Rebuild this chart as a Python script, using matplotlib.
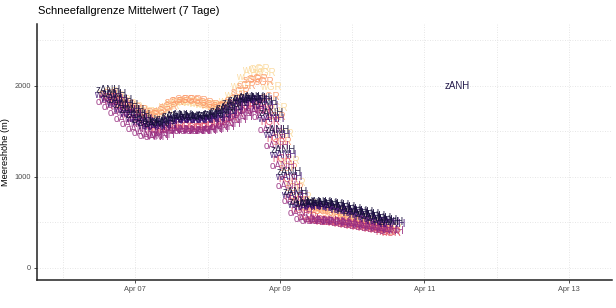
import pandas as pd
import matplotlib
matplotlib.use("Agg")
import matplotlib.pyplot as plt
import matplotlib.dates as mdates

plt.rcParams['font.family'] = ['Liberation Sans', 'DejaVu Sans']

# 2-stuendliche Werte, 6. April 15 Uhr bis 10. April 13 Uhr
times = pd.date_range("2021-04-06 15:00", periods=48, freq="2h")

names = ["wGR", "sGR", "nGR", "oANH", "wANH", "zANH"]
colors = ["#fbd99b", "#fc9a6a", "#e0506a", "#982d80", "#3f0f72", "#160f3a"]

wGR = [1930, 1890, 1840, 1800, 1770, 1740, 1710, 1690, 1690,
       1730, 1780, 1810, 1820, 1820, 1810, 1800, 1790, 1780,
       1770, 1790, 1830, 1900, 2000, 2100, 2170, 2190, 2140,
       1990, 1760, 1470, 1180, 930, 780, 700, 670, 660,
       650, 640, 620, 600, 580, 560, 540, 520, 500, 480, 460, 440]
sGR = [1910, 1870, 1820, 1790, 1760, 1730, 1700, 1680, 1680,
       1720, 1770, 1820, 1840, 1850, 1840, 1830, 1810, 1790,
       1770, 1770, 1800, 1850, 1930, 2000, 2060, 2080, 2040,
       1880, 1660, 1380, 1100, 880, 740, 660, 640, 630,
       620, 600, 580, 560, 540, 520, 500, 480, 460, 440, 420, 400]
nGR = [1870, 1830, 1780, 1730, 1680, 1640, 1600, 1560, 1520,
       1520, 1540, 1560, 1560, 1550, 1540, 1540, 1550, 1560,
       1580, 1600, 1640, 1690, 1740, 1780, 1800, 1790, 1730,
       1600, 1420, 1200, 980, 780, 640, 560, 530, 520,
       510, 500, 490, 480, 470, 460, 450, 440, 430, 420, 400, 380]
oANH = [1820, 1770, 1700, 1640, 1580, 1530, 1480, 1450, 1440,
        1460, 1500, 1520, 1520, 1510, 1500, 1500, 1510, 1520,
        1530, 1550, 1580, 1620, 1660, 1700, 1730, 1720, 1660,
        1520, 1340, 1120, 900, 730, 600, 540, 520, 520,
        520, 510, 500, 490, 480, 470, 460, 450, 440, 430, 420, 410]
wANH = [1900, 1860, 1800, 1740, 1690, 1640, 1600, 1560, 1550,
        1570, 1610, 1630, 1640, 1630, 1620, 1620, 1630, 1640,
        1650, 1680, 1720, 1770, 1810, 1840, 1850, 1840, 1780,
        1640, 1460, 1240, 1000, 800, 690, 670, 680, 690,
        680, 670, 660, 640, 620, 600, 580, 560, 540, 520, 500, 480]
zANH = [1960, 1910, 1850, 1790, 1730, 1680, 1630, 1590, 1580,
        1600, 1640, 1670, 1680, 1670, 1660, 1660, 1670, 1680,
        1690, 1720, 1760, 1810, 1850, 1870, 1880, 1870, 1820,
        1700, 1520, 1300, 1050, 830, 720, 700, 710, 720,
        710, 700, 690, 670, 650, 630, 610, 590, 570, 550, 530, 510]
series = [wGR, sGR, nGR, oANH, wANH, zANH]

# einzelner Wert rechts
extra_time = pd.Timestamp("2021-04-11 11:00")
extra_value = 2000
extra_name = "zANH"
extra_color = "#241b4c"

fig = plt.figure(figsize=(6.16, 3.08), dpi=100)
ax = fig.add_axes([0.060, 0.092, 0.934, 0.830])

tnum = mdates.date2num(times)
for name, col, vals in zip(names, colors, series):
    for t, v in zip(tnum, vals):
        ax.text(t, v, name, color=col, fontsize=7, ha='center', va='center', alpha=0.9)
ax.text(mdates.date2num(extra_time), extra_value, extra_name, color=extra_color,
        fontsize=7, ha='center', va='center')

day0 = mdates.date2num(pd.Timestamp("2021-04-05"))
ax.set_xlim(day0 + 0.64, day0 + 8.6)
ax.set_ylim(-129, 2680)

ax.xaxis.set_major_locator(mdates.DayLocator(bymonthday=[7, 9, 11, 13]))
ax.xaxis.set_minor_locator(mdates.DayLocator(bymonthday=[6, 8, 10, 12]))
ax.xaxis.set_major_formatter(mdates.DateFormatter("%b %d"))
ax.set_yticks([0, 1000, 2000])
ax.set_yticks([500, 1500, 2500], minor=True)

ax.grid(True, which='both', color='#dedede', linestyle=(0, (1, 2)), linewidth=0.6)
ax.set_axisbelow(True)
for s in ['top', 'right']:
    ax.spines[s].set_visible(False)
for s in ['left', 'bottom']:
    ax.spines[s].set_color('#222222')
    ax.spines[s].set_linewidth(1.1)
ax.tick_params(which='major', length=2.5, width=0.6, color='#333333',
               labelsize=5.3, labelcolor='#4d4d4d', pad=2)
ax.tick_params(which='minor', length=0)

ax.set_ylabel("Meereshöhe (m)", fontsize=6.7, labelpad=3)
fig.text(0.062, 0.963, "Schneefallgrenze Mittelwert (7 Tage)", fontsize=8, va='center')

fig.savefig("out.png", dpi=100)
